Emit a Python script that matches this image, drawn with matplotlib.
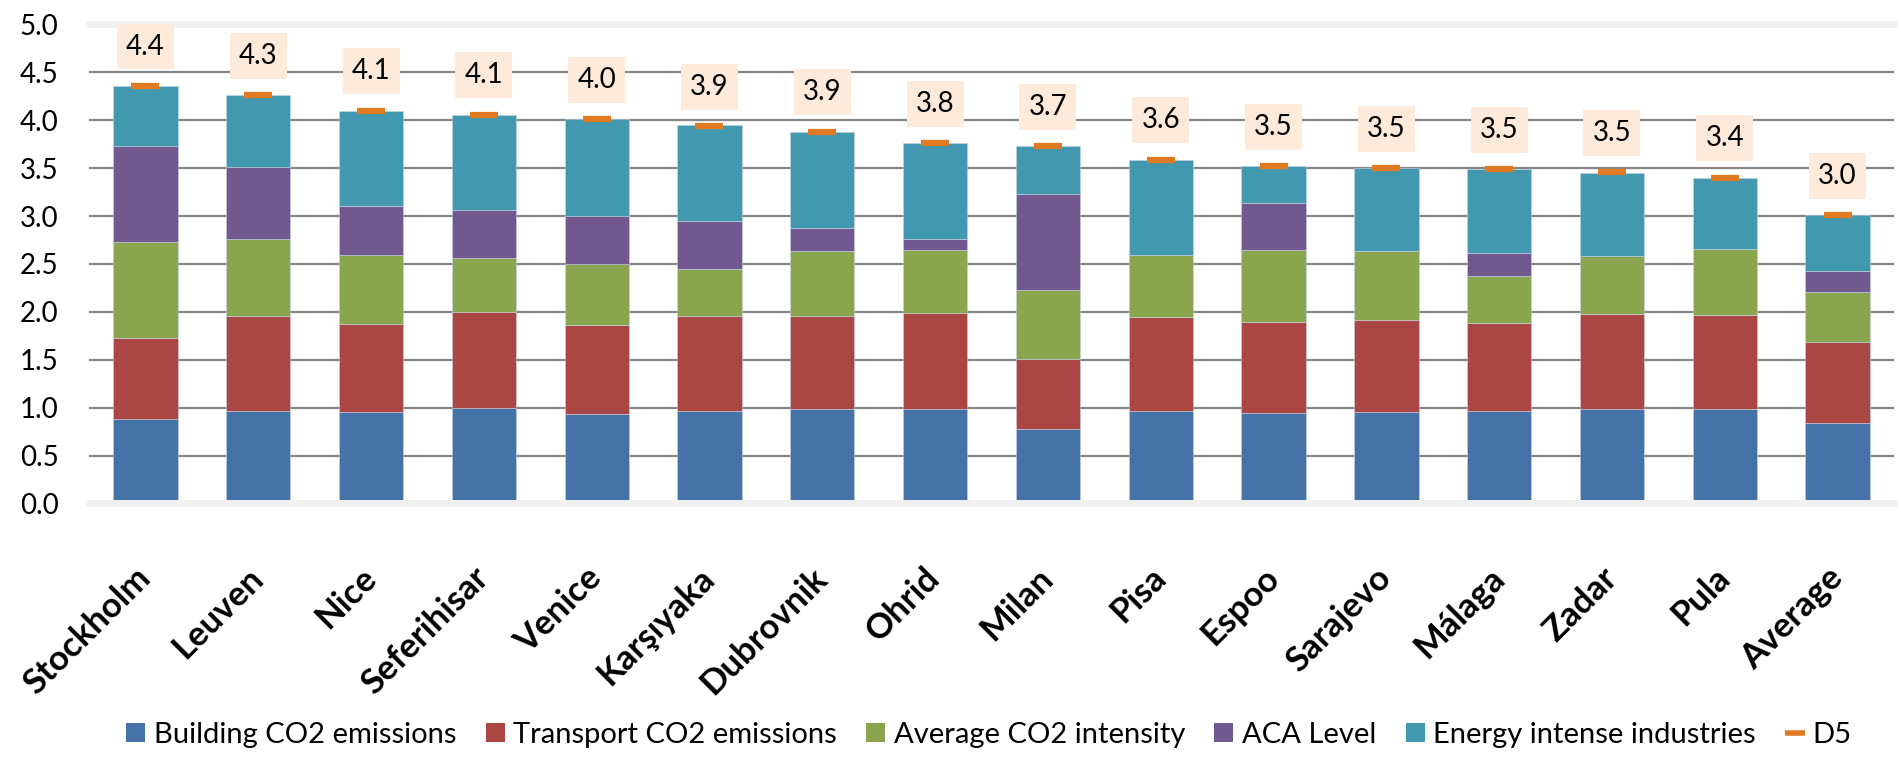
import numpy as np
import matplotlib
matplotlib.use("Agg")
import matplotlib.pyplot as plt
from matplotlib.lines import Line2D
from matplotlib.patches import Patch

plt.rcParams['font.family'] = ['Lato', 'DejaVu Sans']

cities = ["Stockholm", "Leuven", "Nice", "Seferihisar", "Venice", "Karşıyaka",
          "Dubrovnik", "Ohrid", "Milan", "Pisa", "Espoo", "Sarajevo", "Málaga",
          "Zadar", "Pula", "Average"]

building = [0.88, 0.97, 0.95, 1.00, 0.93, 0.97, 0.99, 0.99, 0.78, 0.97, 0.94, 0.95, 0.97, 0.99, 0.99, 0.84]
transport = [0.85, 0.99, 0.92, 1.00, 0.93, 0.99, 0.97, 1.00, 0.73, 0.98, 0.95, 0.96, 0.91, 0.99, 0.98, 0.85]
avg_co2 = [1.00, 0.80, 0.72, 0.56, 0.64, 0.49, 0.68, 0.66, 0.72, 0.64, 0.76, 0.73, 0.49, 0.60, 0.69, 0.52]
aca = [1.00, 0.75, 0.51, 0.50, 0.50, 0.50, 0.24, 0.11, 1.00, 0.00, 0.49, 0.00, 0.24, 0.00, 0.00, 0.22]
energy = [0.63, 0.75, 1.00, 1.00, 1.01, 1.00, 1.00, 1.00, 0.50, 1.00, 0.38, 0.86, 0.88, 0.87, 0.74, 0.58]
d5 = [4.36, 4.26, 4.10, 4.06, 4.01, 3.94, 3.88, 3.76, 3.73, 3.59, 3.52, 3.50, 3.49, 3.46, 3.40, 3.01]

series = [building, transport, avg_co2, aca, energy]
names = ["Building CO2 emissions", "Transport CO2 emissions", "Average CO2 intensity",
         "ACA Level", "Energy intense industries"]
colors = ["#4572A7", "#AA4643", "#89A54E", "#71588F", "#4198AF"]
orange = "#E07B24"

fig = plt.figure(figsize=(19.02, 7.6), dpi=100)
ax = fig.add_axes([0.0468, 0.3376, 0.9490, 0.6302])

x = np.arange(len(cities))
bottom = np.zeros(len(cities))
for vals, c in zip(series, colors):
    ax.bar(x, vals, 0.57, bottom=bottom, color=c, edgecolor="#c8d4e4", linewidth=0.4, zorder=2)
    bottom += np.array(vals)

ax.plot(x, d5, linestyle="none", marker="_", markersize=20, mew=4.5, color=orange, zorder=3)

# data label boxes
d5a = np.array(d5)
ax.bar(x, 0.48, 0.505, bottom=d5a + 0.41 - 0.24, color="#FDEADA", zorder=4)
for xi, v in zip(x, d5):
    ax.text(xi, v + 0.41, f"{v:.1f}", ha="center", va="center", fontsize=20, zorder=5)

ax.set_xlim(-0.5, len(cities) - 0.5)
ax.set_ylim(0, 5)
ax.set_yticks(np.arange(0, 5.01, 0.5))
ax.set_yticklabels([f"{t:.1f}" for t in np.arange(0, 5.01, 0.5)], fontsize=20)
ax.yaxis.grid(True, color="#868686", linewidth=1.6, zorder=0)
ax.set_axisbelow(True)
ax.tick_params(axis="y", length=0, pad=22)
ax.tick_params(axis="x", length=0, pad=50)
ax.set_xticks(x)
ax.set_xticklabels(cities, rotation=45, ha="right", va="center", rotation_mode="anchor",
                   fontsize=25, fontweight="bold")

for s in ["left", "right"]:
    ax.spines[s].set_visible(False)
for s in ["top", "bottom"]:
    ax.spines[s].set_color("#F0F0F0")
    ax.spines[s].set_linewidth(5)

handles = [Patch(facecolor=c, edgecolor="none") for c in colors]
handles.append(Line2D([], [], linestyle="none", marker="_", markersize=14, mew=4, color=orange))
fig.legend(handles, names + ["D5"], loc="center", bbox_to_anchor=(0.52, 0.033), ncol=6,
           frameon=False, fontsize=21, handlelength=0.65, handleheight=0.65,
           handletextpad=0.3, columnspacing=1.0)

fig.savefig("out.png", dpi=100)
